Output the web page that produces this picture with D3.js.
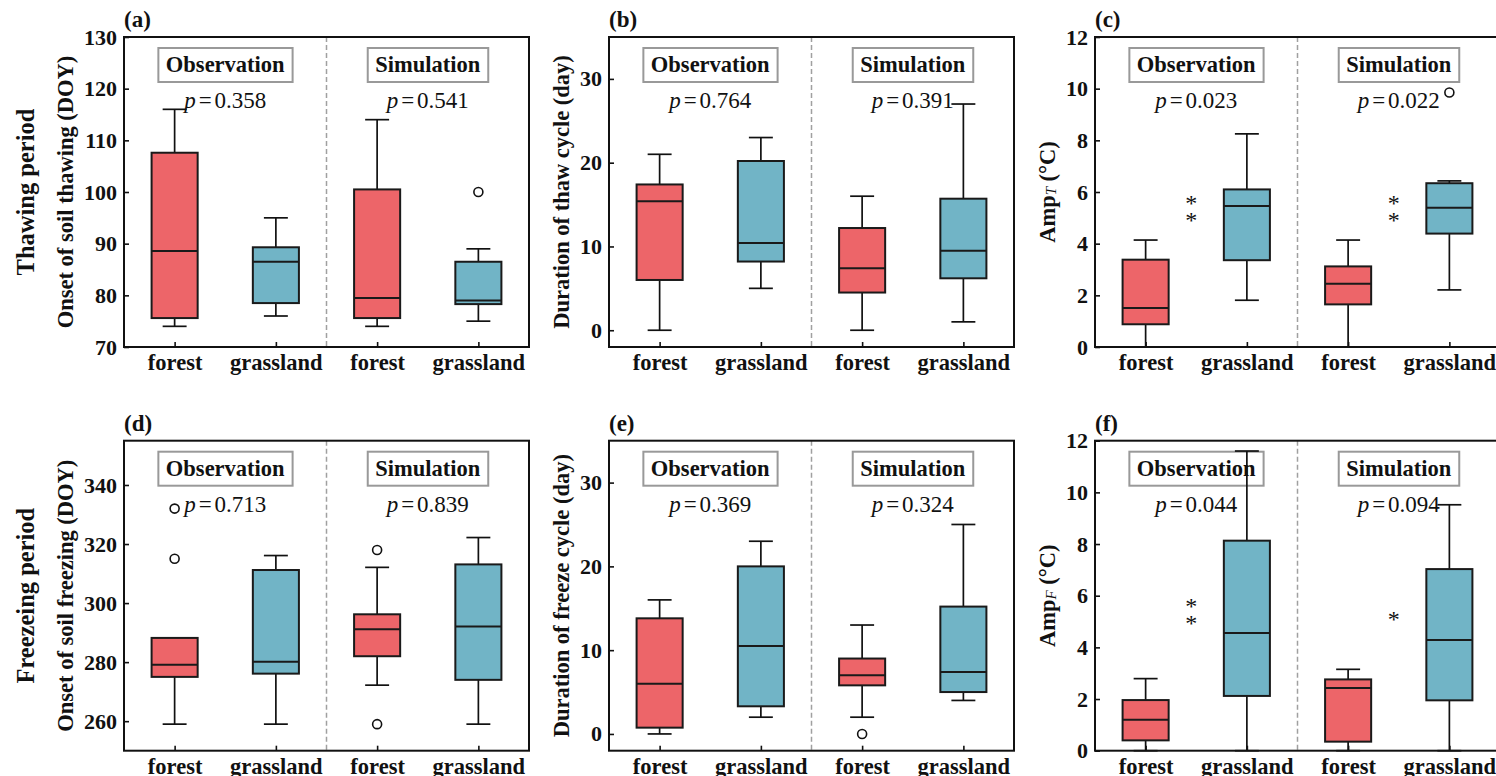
<!DOCTYPE html>
<html><head><meta charset="utf-8">
<script src="https://cdn.jsdelivr.net/npm/d3@7"></script>
<style>
html,body{margin:0;padding:0;background:#fff;overflow:hidden}
svg{display:block}
svg text{font-family:"Liberation Serif","Times New Roman",Times,serif !important}
</style></head>
<body>
<svg id="chart" width="1496" height="776" font-family="Liberation Serif, Times New Roman, serif"></svg>
<script>
// ---------- data ----------
const categories = ["forest", "grassland", "forest", "grassland"];
const groups = ["Observation", "Simulation"];
const rowLabels = ["Thawing period", "Freezeing period"];

// each box: [lower whisker, Q1, median, Q3, upper whisker]
const onsetThaw = [[74, 75.6, 88.6, 107.6, 116], [76, 78.5, 86.5, 89.3, 95], [74, 75.6, 79.5, 100.5, 114], [75, 78.3, 79, 86.5, 89]];
const onsetThawOut = [[], [], [], [100]];
const pOnsetThaw = ["0.358", "0.541"];

const durThaw = [[0, 6.0, 15.4, 17.4, 21], [5, 8.2, 10.4, 20.2, 23], [0, 4.5, 7.4, 12.2, 16], [1, 6.2, 9.5, 15.7, 27]];
const durThawOut = [[], [], [], []];
const pDurThaw = ["0.764", "0.391"];

const ampT = [[0, 0.88, 1.51, 3.38, 4.14], [1.81, 3.36, 5.46, 6.1, 8.25], [0, 1.65, 2.45, 3.12, 4.14], [2.21, 4.39, 5.39, 6.34, 6.43]];
const ampTOut = [[], [], [], [9.85]];
const pAmpT = ["0.023", "0.022"];
const starsAmpT = [[5.7, 5.03], [5.7, 5.03]];

const onsetFreeze = [[259, 275, 279.1, 288.2, 288.2], [259, 276.1, 280.1, 311.2, 316.1], [272.2, 282, 291.1, 296.2, 312.1], [259, 274, 292.1, 313.1, 322.2]];
const onsetFreezeOut = [[315, 332], [], [259, 318], []];
const pOnsetFreeze = ["0.713", "0.839"];

const durFreeze = [[0, 0.75, 6.0, 13.8, 16], [2, 3.3, 10.5, 20, 23], [2, 5.8, 7.0, 9.0, 13], [4, 5.0, 7.4, 15.2, 25]];
const durFreezeOut = [[], [], [0], []];
const pDurFreeze = ["0.369", "0.324"];

const ampF = [[0, 0.4, 1.2, 1.96, 2.79], [0, 2.12, 4.56, 8.13, 11.6], [0, 0.35, 2.43, 2.76, 3.15], [0, 1.95, 4.29, 7.03, 9.52]];
const ampFOut = [[], [], [], []];
const pAmpF = ["0.044", "0.094"];
const starsAmpF = [[5.72, 5.06], [5.21]];

const ticksA = [70, 80, 90, 100, 110, 120, 130];
const ticksB = [0, 10, 20, 30];
const ticksC = [0, 2, 4, 6, 8, 10, 12];
const ticksD = [260, 280, 300, 320, 340];
const ticksE = [0, 10, 20, 30];
const ticksF = [0, 2, 4, 6, 8, 10, 12];

// ---------- layout ----------
const svg = d3.select("#chart");
const W = 405, H = 310;
const lefts = [124, 609, 1095];
const tops = [37, 440.7];
const RED = "#ED6569", BLUE = "#71B4C6";
const FF = "Liberation Serif, Times New Roman, serif";

const panels = [
  {id: "(a)", row: 0, col: 0, dom: [70, 130], ticks: ticksA, boxes: onsetThaw, out: onsetThawOut, p: pOnsetThaw, ylab: "Onset of soil thawing (DOY)"},
  {id: "(b)", row: 0, col: 1, dom: [-2, 35], ticks: ticksB, boxes: durThaw, out: durThawOut, p: pDurThaw, ylab: "Duration of thaw cycle (day)"},
  {id: "(c)", row: 0, col: 2, dom: [0, 12], ticks: ticksC, boxes: ampT, out: ampTOut, p: pAmpT, amp: "T", stars: starsAmpT},
  {id: "(d)", row: 1, col: 0, dom: [250, 355], ticks: ticksD, boxes: onsetFreeze, out: onsetFreezeOut, p: pOnsetFreeze, ylab: "Onset of soil freezing (DOY)"},
  {id: "(e)", row: 1, col: 1, dom: [-2, 35], ticks: ticksE, boxes: durFreeze, out: durFreezeOut, p: pDurFreeze, ylab: "Duration of freeze cycle (day)"},
  {id: "(f)", row: 1, col: 2, dom: [0, 12], ticks: ticksF, boxes: ampF, out: ampFOut, p: pAmpF, amp: "F", stars: starsAmpF}
];

const x = d3.scaleLinear().domain([0, 4]).range([0, W]);
const band = x(1) - x(0);
const bw = band * 0.455, cw = bw * 0.52;

function txt(sel) { return sel.append("text").attr("font-family", FF).attr("fill", "#111"); }

panels.forEach(P => {
  const L = lefts[P.col], T = tops[P.row];
  const y = d3.scaleLinear().domain(P.dom).range([H, 0]);
  const g = svg.append("g").attr("transform", `translate(${L},${T})`);

  // dashed divider
  g.append("line").attr("x1", x(2)).attr("x2", x(2)).attr("y1", 0).attr("y2", H)
    .attr("stroke", "#a0a0a0").attr("stroke-width", 1.5).attr("stroke-dasharray", "5,3");

  // group boxes with labels
  groups.forEach((gr, i) => {
    const cx = x(i * 2 + 1);
    const t = txt(g).attr("x", cx).attr("y", 35).attr("text-anchor", "middle")
      .attr("font-size", 22.5).attr("font-weight", "bold").text(gr);
    const bb = t.node().getBBox();
    g.insert("rect", "text").attr("x", bb.x - 7.5).attr("y", 11).attr("width", bb.width + 15).attr("height", 34)
      .attr("fill", "#fff").attr("stroke", "#999").attr("stroke-width", 2);
    const pt = txt(g).attr("x", cx).attr("y", 71).attr("text-anchor", "middle").attr("font-size", 23);
    pt.append("tspan").attr("font-style", "italic").text("p");
    pt.append("tspan").attr("dx", 3).text("=");
    pt.append("tspan").attr("dx", 3).text(P.p[i]);
  });

  // boxes
  P.boxes.forEach((b, i) => {
    const cx = x(i + 0.5);
    const col = i % 2 === 0 ? RED : BLUE;
    const [lo, q1, md, q3, hi] = b;
    g.append("line").attr("x1", cx).attr("x2", cx).attr("y1", y(hi)).attr("y2", y(q3)).attr("stroke", "#111").attr("stroke-width", 1.7);
    g.append("line").attr("x1", cx).attr("x2", cx).attr("y1", y(q1)).attr("y2", y(lo)).attr("stroke", "#111").attr("stroke-width", 1.7);
    g.append("line").attr("x1", cx - cw / 2).attr("x2", cx + cw / 2).attr("y1", y(hi)).attr("y2", y(hi)).attr("stroke", "#111").attr("stroke-width", 1.7);
    g.append("line").attr("x1", cx - cw / 2).attr("x2", cx + cw / 2).attr("y1", y(lo)).attr("y2", y(lo)).attr("stroke", "#111").attr("stroke-width", 1.7);
    g.append("rect").attr("x", cx - bw / 2).attr("y", y(q3)).attr("width", bw).attr("height", y(q1) - y(q3))
      .attr("fill", col).attr("stroke", "#1a1a1a").attr("stroke-width", 2);
    g.append("line").attr("x1", cx - bw / 2).attr("x2", cx + bw / 2).attr("y1", y(md)).attr("y2", y(md)).attr("stroke", "#1a1a1a").attr("stroke-width", 2);
    P.out[i].forEach(v => {
      g.append("circle").attr("cx", cx).attr("cy", y(v)).attr("r", 4.5).attr("fill", "none").attr("stroke", "#111").attr("stroke-width", 1.6);
    });
  });

  // significance stars
  if (P.stars) {
    P.stars.forEach((arr, i) => {
      arr.forEach(v => {
        txt(g).attr("x", x(i * 2 + 0.95)).attr("y", y(v) + 11).attr("text-anchor", "middle")
          .attr("font-size", 24).text("*");
      });
    });
  }

  // frame
  g.append("rect").attr("x", 0).attr("y", 0).attr("width", W).attr("height", H)
    .attr("fill", "none").attr("stroke", "#111").attr("stroke-width", 2);

  // y axis
  const ya = g.append("g").call(d3.axisLeft(y).tickValues(P.ticks).tickSize(-5).tickPadding(7));
  ya.attr("font-family", FF);
  ya.select(".domain").remove();
  ya.selectAll(".tick line").attr("stroke", "#111").attr("stroke-width", 1.6);
  ya.selectAll(".tick text").attr("font-size", 22).attr("font-weight", "bold").attr("font-family", FF).attr("fill", "#111");

  // x axis
  const xa = g.append("g").attr("transform", `translate(0,${H})`)
    .call(d3.axisBottom(x).tickValues([0.5, 1.5, 2.5, 3.5]).tickFormat((d, i) => categories[i]).tickSize(-5).tickPadding(7));
  xa.attr("font-family", FF);
  xa.select(".domain").remove();
  xa.selectAll(".tick line").attr("stroke", "#111").attr("stroke-width", 1.6);
  xa.selectAll(".tick text").attr("font-size", 22.5).attr("font-weight", "bold").attr("font-family", FF).attr("fill", "#111");

  // panel label
  txt(g).attr("x", 0).attr("y", -10).attr("font-size", 23).attr("font-weight", "bold").text(P.id);

  // y label
  let maxW = 0;
  ya.selectAll(".tick text").each(function () { maxW = Math.max(maxW, this.getBBox().width); });
  const lx = -(maxW + 26);
  const yl = txt(g).attr("transform", `translate(${lx},${H / 2}) rotate(-90)`)
    .attr("text-anchor", "middle").attr("dominant-baseline", "central")
    .attr("font-size", 22.5).attr("font-weight", "bold");
  if (P.amp) {
    yl.append("tspan").text("Amp");
    yl.append("tspan").attr("font-style", "italic").attr("font-weight", "normal").attr("font-size", 15).attr("dy", 4).text(P.amp);
    yl.append("tspan").attr("dy", -4).text(" (°C)");
  } else {
    yl.text(P.ylab);
  }
});

// row labels
rowLabels.forEach((t, r) => {
  txt(svg).attr("transform", `translate(25,${tops[r] + H / 2}) rotate(-90)`)
    .attr("text-anchor", "middle").attr("dominant-baseline", "central")
    .attr("font-size", 24.5).attr("font-weight", "bold").text(t);
});
</script>
</body></html>
